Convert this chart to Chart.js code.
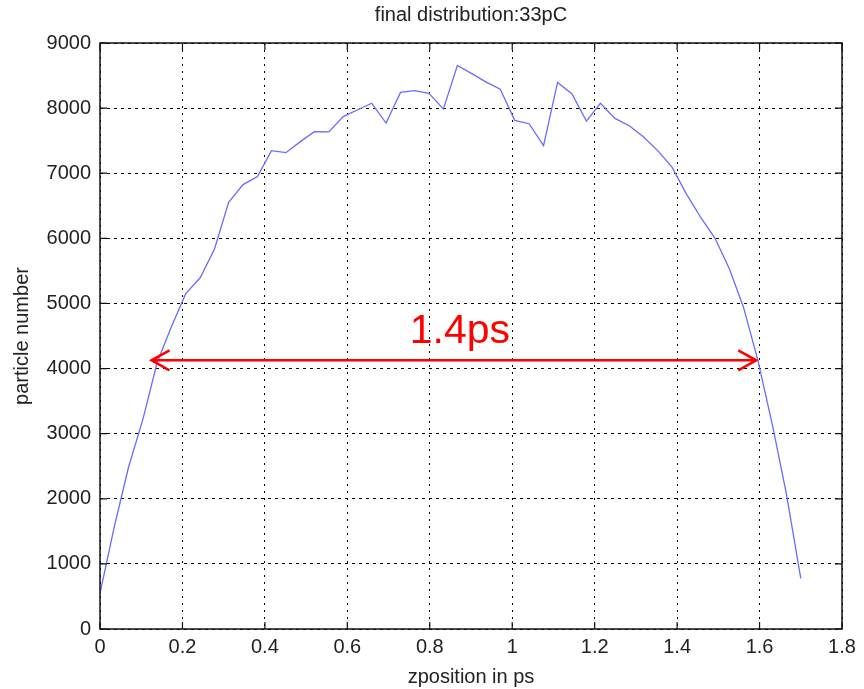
<!DOCTYPE html>
<html>
<head>
<meta charset="utf-8">
<script src="https://cdn.jsdelivr.net/npm/chart.js@4.4.1/dist/chart.umd.min.js"></script>
<style>
  html, body { margin: 0; padding: 0; background: #fff; }
  canvas { display: block; }
</style>
</head>
<body>
<canvas id="chart" width="864" height="689"></canvas>
<script>
// data
const zPositions = [
  0, 0.035, 0.069, 0.104, 0.139, 0.173, 0.208, 0.243, 0.278, 0.312,
  0.347, 0.382, 0.416, 0.451, 0.486, 0.520, 0.555, 0.590, 0.624, 0.659,
  0.694, 0.729, 0.763, 0.798, 0.833, 0.867, 0.902, 0.937, 0.971, 1.006,
  1.041, 1.076, 1.110, 1.145, 1.180, 1.214, 1.249, 1.284, 1.318, 1.353,
  1.388, 1.422, 1.457, 1.492, 1.527, 1.561, 1.596, 1.631, 1.665, 1.700
];
const particleCounts = [
  548, 1580, 2480, 3220, 4100, 4640, 5150, 5394, 5840, 6554,
  6825, 6948, 7347, 7316, 7485, 7638, 7635, 7870, 7971, 8075,
  7771, 8241, 8267, 8226, 7985, 8655, 8530, 8400, 8290, 7812,
  7760, 7423, 8394, 8216, 7800, 8075, 7842, 7730, 7561, 7347,
  7090, 6687, 6324, 6000, 5530, 4943, 4126, 3140, 2080, 777
];
const xTickValues = [0, 0.2, 0.4, 0.6, 0.8, 1, 1.2, 1.4, 1.6, 1.8];
const yTickValues = [0, 1000, 2000, 3000, 4000, 5000, 6000, 7000, 8000, 9000];

const chartTitle = 'final distribution:33pC';
const xAxisTitle = 'zposition in ps';
const yAxisTitle = 'particle number';

// red width marker (data coordinates)
const widthStart = 0.125;
const widthEnd = 1.592;
const widthLevel = 4126;
const widthLabel = '1.4ps';
const widthLabelX = 0.873;
const widthLabelY = 4400;

const FONT = '"Liberation Sans", Arial, sans-serif';
const TEXT_COLOR = '#222';

// box frame, inward ticks and the arrow annotation
const matlabFrame = {
  id: 'matlabFrame',
  afterDraw(chart) {
    const { ctx, chartArea: a, scales: { x, y } } = chart;
    const tickLen = 7;
    ctx.save();
    ctx.strokeStyle = '#111';
    ctx.lineWidth = 1.5;
    ctx.strokeRect(a.left, a.top, a.right - a.left, a.bottom - a.top);

    ctx.lineWidth = 1.2;
    ctx.beginPath();
    xTickValues.forEach(v => {
      const px = x.getPixelForValue(v);
      ctx.moveTo(px, a.bottom); ctx.lineTo(px, a.bottom - tickLen);
      ctx.moveTo(px, a.top); ctx.lineTo(px, a.top + tickLen);
    });
    yTickValues.forEach(v => {
      const py = y.getPixelForValue(v);
      ctx.moveTo(a.left, py); ctx.lineTo(a.left + tickLen, py);
      ctx.moveTo(a.right, py); ctx.lineTo(a.right - tickLen, py);
    });
    ctx.stroke();

    // double-headed red arrow
    const x0 = x.getPixelForValue(widthStart);
    const x1 = x.getPixelForValue(widthEnd);
    const yy = y.getPixelForValue(widthLevel);
    ctx.strokeStyle = '#ff0000';
    ctx.lineWidth = 2.5;
    ctx.beginPath();
    ctx.moveTo(x0, yy); ctx.lineTo(x1, yy);
    ctx.moveTo(x0 + 18, yy - 10); ctx.lineTo(x0, yy); ctx.lineTo(x0 + 18, yy + 10);
    ctx.moveTo(x1 - 18, yy - 10); ctx.lineTo(x1, yy); ctx.lineTo(x1 - 18, yy + 10);
    ctx.stroke();

    ctx.fillStyle = '#ff0000';
    ctx.font = '41px ' + FONT;
    ctx.textAlign = 'center';
    ctx.textBaseline = 'alphabetic';
    ctx.fillText(widthLabel, x.getPixelForValue(widthLabelX), y.getPixelForValue(widthLabelY));
    ctx.restore();
  }
};

const chart = new Chart(document.getElementById('chart').getContext('2d'), {
  type: 'line',
  data: {
    datasets: [{
      data: zPositions.map((z, i) => ({ x: z, y: particleCounts[i] })),
      borderColor: '#6b6bff',
      borderWidth: 1.3,
      pointRadius: 0,
      tension: 0,
      fill: false
    }]
  },
  options: {
    responsive: false,
    animation: false,
    devicePixelRatio: 1,
    layout: { padding: { top: 0, right: 22, bottom: 0, left: 0 } },
    plugins: {
      legend: { display: false },
      tooltip: { enabled: false },
      title: {
        display: true,
        fullSize: false, // centre over the plot box, like matlab
        text: chartTitle,
        color: TEXT_COLOR,
        font: { family: FONT, size: 20, weight: 'normal' },
        padding: { top: 3, bottom: 16 }
      }
    },
    scales: {
      x: {
        type: 'linear',
        min: 0,
        max: 1.8,
        afterBuildTicks: scale => { scale.ticks = xTickValues.map(v => ({ value: v })); },
        afterFit: scale => { scale.height = 60; },
        ticks: {
          color: TEXT_COLOR,
          font: { family: FONT, size: 20 },
          padding: 6,
          maxRotation: 0,
          callback: v => String(+v.toFixed(1))
        },
        grid: { color: '#000', lineWidth: 1, drawTicks: false },
        border: { display: false, dash: [2, 5] },
        title: {
          display: true,
          text: xAxisTitle,
          color: TEXT_COLOR,
          font: { family: FONT, size: 20 },
          padding: { top: 2, bottom: 0 }
        }
      },
      y: {
        min: 0,
        max: 9000,
        afterBuildTicks: scale => { scale.ticks = yTickValues.map(v => ({ value: v })); },
        afterFit: scale => { scale.width = 100; },
        ticks: {
          color: TEXT_COLOR,
          font: { family: FONT, size: 20 },
          padding: 9,
          callback: v => String(v)
        },
        grid: { color: '#000', lineWidth: 1, drawTicks: false },
        border: { display: false, dash: [3, 4] },
        title: {
          display: true,
          text: yAxisTitle,
          color: TEXT_COLOR,
          font: { family: FONT, size: 20 },
          padding: { top: 10, bottom: 0 }
        }
      }
    }
  },
  plugins: [matlabFrame]
});
</script>
</body>
</html>
